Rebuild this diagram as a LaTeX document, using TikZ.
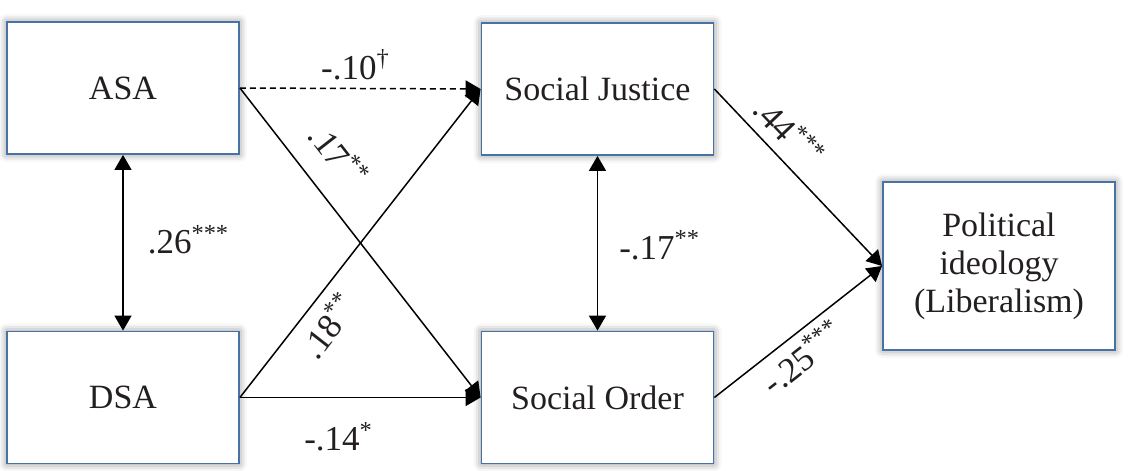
\documentclass[tikz,border=0pt]{standalone}
\usepackage{fontspec}
\setmainfont{Liberation Serif}
\usetikzlibrary{arrows.meta,shadows.blur}
\definecolor{boxblue}{RGB}{70,114,166}
\definecolor{inkgray}{RGB}{35,31,32}

\begin{document}
\begin{tikzpicture}[x=0.5pt, y=-0.5pt,
  construct/.style={draw=boxblue, line width=0.9pt, fill=white,
    minimum width=116pt, minimum height=66pt, align=center, text=inkgray,
    font=\fontsize{17}{19}\selectfont,
    blur shadow={shadow xshift=0pt, shadow yshift=0pt,
      shadow blur radius=4pt, shadow opacity=50}},
  effect/.style={line width=0.75pt, -{Triangle[length=7.5pt,width=8.5pt]}},
  corr/.style={line width=0.75pt,
    {Triangle[length=7.5pt,width=8.5pt]}-{Triangle[length=7.5pt,width=8.5pt]}},
  coef/.style={font=\fontsize{17.5}{20}\selectfont, text=inkgray, inner sep=0pt}]
\useasboundingbox (0,0) rectangle (1137,471);

% constructs
\node [construct]                    (asa) at (123,88)    {ASA};
\node [construct]                    (dsa) at (123,397.5) {DSA};
\node [construct]                    (sj)  at (597.5,89)  {Social Justice};
\node [construct]                    (so)  at (597.5,397.5) {Social Order};
\node [construct, minimum height=84pt] (pi) at (999,266)  {Political\\ideology\\(Liberalism)};

%------------------------------------------------------
% paths
\draw [effect, dash pattern=on 3pt off 2pt] (asa.east) -- (sj.west)
  node [coef, pos=0.48, above=4pt] {-.10\textsuperscript{\textdagger}};
\draw [effect] (asa.east) -- (so.west)
  node [coef, pos=0.29, sloped, above=11pt] {.17\textsuperscript{**}};
\draw [effect] (dsa.east) -- (sj.west)
  node [coef, pos=0.283, sloped, below=5pt] {.18\textsuperscript{**}};
\draw [effect] (dsa.east) -- (so.west)
  node [coef, pos=0.41, below=12pt] {-.14\textsuperscript{*}};
\draw [effect] (sj.east) -- (pi.west)
  node [coef, pos=0.34, sloped, above=5pt] {.44\textsuperscript{***}};
\draw [effect] (so.east) -- (pi.west)
  node [coef, pos=0.44, sloped, below=3.5pt] {-.25\textsuperscript{***}};

% correlations
\draw [corr] (asa.south) -- (dsa.north)
  node [coef, pos=0.483, right=12pt] {.26\textsuperscript{***}};
\draw [corr] (sj.south) -- (so.north)
  node [coef, pos=0.51, right=10.5pt] {-.17\textsuperscript{**}};
\end{tikzpicture}
\end{document}
